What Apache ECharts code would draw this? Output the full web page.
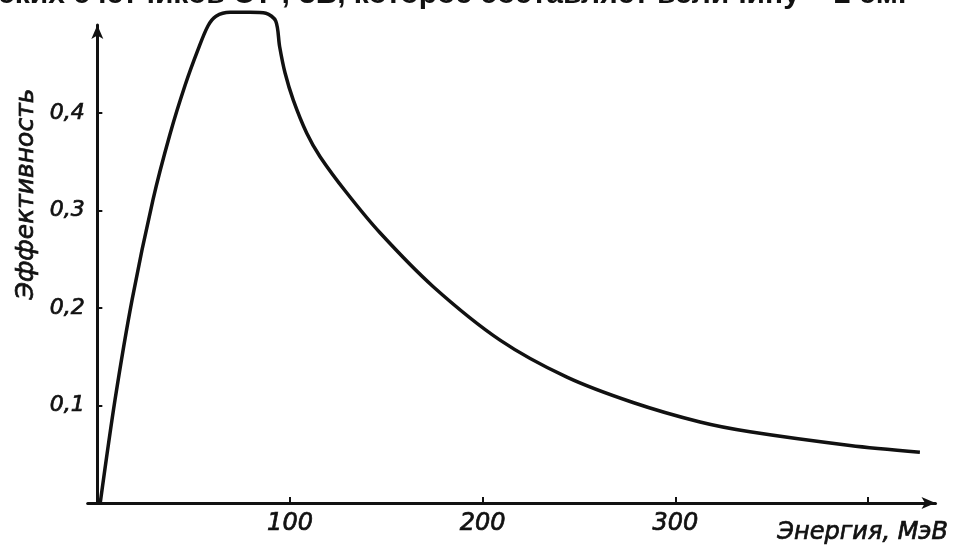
<!DOCTYPE html>
<html>
<head>
<meta charset="utf-8">
<script src="https://cdn.jsdelivr.net/npm/echarts@6/dist/echarts.min.js"></script>
<style>
  html, body { margin: 0; padding: 0; background: #fff; }
  #chart { width: 953px; height: 550px; }
</style>
</head>
<body>
<div id="chart"></div>
<script>
// energy, MeV
const energy = [1.5, 9.2, 18, 28.9, 37.7, 45.5, 52.3, 57.4, 61.6, 68.9, 79.2, 87.5, 92.6, 94.6, 97.4,
  101.7, 108.7, 115.6, 129.4, 146.7, 174.2, 209, 243.7, 278, 312.8, 338.7, 390.6, 426.9];
// efficiency
const efficiency = [0, 0.106, 0.208, 0.311, 0.378, 0.428, 0.465, 0.489, 0.499, 0.503, 0.503, 0.502, 0.494, 0.468, 0.441,
  0.413, 0.379, 0.355, 0.318, 0.277, 0.222, 0.167, 0.129, 0.103, 0.083, 0.073, 0.059, 0.052];
const xTicks = [100, 200, 300, 400];
const xLabels = [100, 200, 300];
const yTicks = [0.1, 0.2, 0.3, 0.4];

const handFont = 'DejaVu Sans';
const ink = '#111';

const chart = echarts.init(document.getElementById('chart'));

chart.setOption({
  animation: false,
  backgroundColor: '#fff',
  grid: {
    left: 87.7,
    right: 17.5,
    top: 25,
    bottom: 47,
    containLabel: false,
  },
  xAxis: {
    type: 'value',
    min: -5,
    max: 435,
    splitLine: { show: false },
    axisLine: {
      lineStyle: { color: ink, width: 3 },
      symbol: ['none', 'arrow'],
      symbolSize: [9, 14],
    },
    axisTick: {
      inside: true,
      length: 6,
      customValues: xTicks,
      lineStyle: { color: ink, width: 2 },
    },
    axisLabel: {
      customValues: xLabels,
      margin: 9,
      color: ink,
      fontFamily: handFont,
      fontStyle: 'italic',
      fontSize: 24,
      textBorderColor: ink,
      textBorderWidth: 0.7,
    },
  },
  yAxis: {
    type: 'value',
    min: 0,
    max: 0.49,
    splitLine: { show: false },
    axisLine: {
      lineStyle: { color: ink, width: 3 },
      symbol: ['none', 'arrow'],
      symbolSize: [9, 14],
    },
    axisTick: {
      inside: true,
      length: 5,
      customValues: yTicks,
      lineStyle: { color: ink, width: 2 },
    },
    axisLabel: {
      customValues: yTicks,
      margin: 3,
      color: ink,
      fontFamily: handFont,
      fontStyle: 'italic',
      fontSize: 22,
      textBorderColor: ink,
      textBorderWidth: 0.7,
      padding: [10, 0, 0, 0],
      formatter: (v) => v.toFixed(1).replace('.', ','),
    },
  },
  graphic: [
    {
      type: 'text',
      left: -2,
      top: -20,
      style: {
        text: 'ских счетчиков СТ ; 3Б, которое составляет величину ~ 2 см.',
        font: 'bold 30px "Liberation Sans"',
        fill: '#111',
      },
    },
    {
      type: 'text',
      x: 26,
      y: 194,
      rotation: Math.PI / 2,
      style: {
        text: 'Эффективность',
        font: 'italic 25px "DejaVu Sans"',
        fill: ink,
        stroke: ink,
        lineWidth: 0.7,
        align: 'center',
        verticalAlign: 'middle',
      },
    },
    {
      type: 'text',
      x: 948,
      y: 533,
      style: {
        text: 'Энергия, МэВ',
        font: 'italic 24px "DejaVu Sans"',
        fill: ink,
        stroke: ink,
        lineWidth: 0.7,
        align: 'right',
        verticalAlign: 'middle',
      },
    },
  ],
  series: [{
    type: 'line',
    data: energy.map((e, i) => [e, efficiency[i]]),
    smooth: 0.3,
    showSymbol: false,
    clip: false,
    lineStyle: { color: ink, width: 3.5 },
  }],
});
</script>
</body>
</html>
